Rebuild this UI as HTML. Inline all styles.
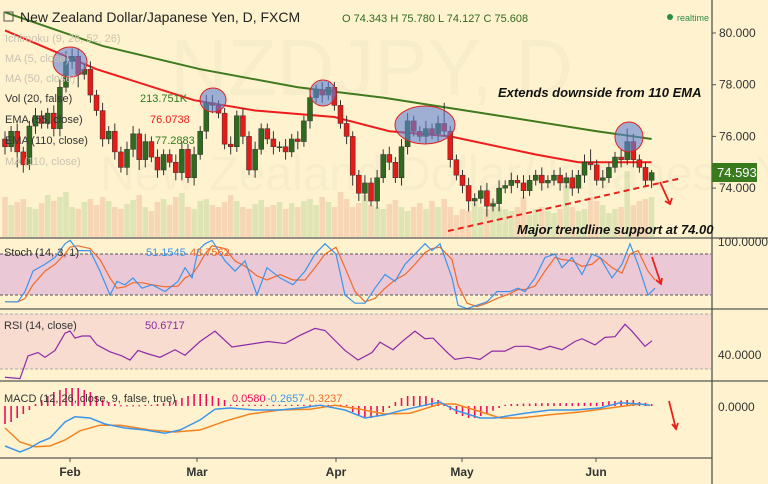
<!DOCTYPE html>
<html><head><meta charset="utf-8"><style>
body{margin:0;width:768px;height:484px;overflow:hidden;background:#fff3cf;font-family:"Liberation Sans",sans-serif}
svg{display:block}
text{font-family:"Liberation Sans",sans-serif}
</style></head><body>
<svg id="c" width="768" height="484">
<rect x="0" y="0" width="768" height="484" fill="#fff3cf"/>
<text x="170" y="95" font-size="80" fill="#f8edcb">NZDJPY, D</text>
<text x="100" y="190" font-size="48" fill="#f8edcb">New Zealand Dollar/Japanese Yen</text>
<g id="price"></g>
<g id="stoch"></g>
<g id="rsi"></g>
<g id="macd"></g>
<g id="ann"></g>
<g id="axes"></g>
</svg>
<script>
const closes=[75.6,76.2,75.4,74.9,76.4,76.8,76.5,76.9,76.3,77.9,78.9,79.1,78.4,78.6,77.6,77.0,75.9,76.2,75.4,74.8,75.5,76.1,75.1,75.8,75.2,74.7,75.3,75.0,74.6,75.5,74.4,75.3,76.2,77.3,77.2,76.9,75.7,75.6,76.8,76.0,74.7,75.5,76.3,75.9,75.6,75.6,75.4,75.9,75.8,76.6,77.5,77.8,77.6,77.9,77.2,76.5,76.0,74.5,73.8,74.2,73.5,74.4,75.3,75.0,74.4,75.6,76.6,76.2,76.0,76.3,76.1,76.5,76.2,75.1,74.5,74.1,73.5,73.6,73.9,73.3,73.4,74.0,74.1,74.3,74.2,73.9,74.3,74.5,74.2,74.3,74.5,74.2,74.4,74.0,74.5,75.0,74.9,74.3,74.4,74.8,75.2,75.1,75.8,75.1,74.8,74.3,74.6];
const firstOpen=75.9;
const upWicks=[0.3,0.2,0.3,0.2,0.2,0.3,0.2,0.2,0.3,0.3,0.4,0.3,0.3,0.2,0.3,0.2,0.3,0.2,0.3,0.2,0.3,0.3,0.2,0.3,0.2,0.3,0.2,0.2,0.3,0.3,0.2,0.3,0.2,0.3,0.3,0.2,0.2,0.3,0.2,0.3,0.2,0.3,0.2,0.2,0.3,0.2,0.3,0.2,0.3,0.2,0.3,0.2,0.3,0.2,0.2,0.2,0.3,0.2,0.2,0.3,0.2,0.3,0.2,0.3,0.2,0.3,0.3,0.2,0.2,0.3,0.2,0.3,0.8,0.2,0.2,0.2,0.3,0.2,0.2,0.3,0.2,0.3,0.2,0.3,0.2,0.3,0.2,0.2,0.3,0.2,0.2,0.3,0.2,0.3,0.2,0.3,0.5,0.2,0.3,0.2,0.2,0.3,0.5,0.3,0.2,0.2,0.1];
const downWicks=[0.3,0.2,0.6,0.3,0.2,0.3,0.2,0.2,0.3,0.3,0.2,0.3,0.5,0.2,0.3,0.2,0.3,0.2,0.3,0.2,0.3,0.3,0.4,0.3,0.2,0.3,0.2,0.2,0.3,0.3,0.2,0.3,0.2,0.3,0.3,0.2,0.2,0.3,0.2,0.3,0.2,0.3,0.2,0.2,0.3,0.2,0.3,0.2,0.3,0.2,0.3,0.2,0.3,0.2,0.2,0.2,0.3,0.4,0.3,0.3,0.2,0.3,0.2,0.3,0.2,0.3,0.3,0.2,0.2,0.3,0.2,0.3,0.2,0.3,0.2,0.3,0.4,0.2,0.2,0.4,0.2,0.3,0.2,0.3,0.2,0.3,0.2,0.2,0.3,0.2,0.2,0.3,0.2,0.3,0.2,0.3,0.2,0.2,0.3,0.2,0.2,0.3,0.2,0.3,0.2,0.2,0.3];
const volumes=[40,32,35,38,30,28,34,42,36,40,45,30,28,35,38,32,40,36,30,28,33,37,42,30,26,35,38,32,40,44,30,28,36,38,32,30,35,42,36,30,28,33,37,30,32,35,28,34,30,36,38,32,40,35,30,45,38,30,34,42,32,30,28,33,37,30,26,30,34,28,36,30,38,30,22,28,26,34,30,28,36,30,28,26,30,40,22,28,30,26,24,28,52,30,26,28,40,36,32,24,28,30,66,32,36,38,40];
const ema55Idx=[0,15,31,41,54,63,73,87,94,106];
const ema55Val=[80.1,78.6,77.4,77.0,76.75,76.2,76.0,75.3,75.0,75.0];
const ema110Idx=[0,16,32,48,62,81,97,106];
const ema110Val=[80.8,79.5,78.6,77.9,77.5,76.8,76.2,75.9];
const stochX=[5,18,25,33,45,55,65,70,78,90,100,110,117,125,133,142,152,165,178,185,192,198,205,212,225,235,245,257,267,280,293,305,315,325,336,345,355,365,375,385,395,405,415,425,432,440,452,458,467,477,487,497,510,518,525,535,545,555,562,572,582,592,600,612,622,630,638,648,655];
const stochK=[10,10,25,55,65,75,95,100,85,85,55,20,40,35,45,30,35,25,40,60,45,85,95,100,70,55,70,20,60,45,35,55,80,95,80,20,8,8,30,50,40,65,80,95,85,95,45,5,0,5,10,25,25,30,25,45,75,80,60,75,50,80,75,45,65,95,65,20,30];
const stochD=[10,10,15,35,55,65,80,90,92,88,72,45,30,32,38,38,35,32,33,45,50,62,80,92,88,70,62,48,42,50,42,42,60,80,90,60,25,10,15,30,42,50,65,82,88,90,72,35,8,3,8,15,22,28,28,33,55,75,72,70,62,65,75,60,52,80,85,55,42];
const rsiX=[5,20,28,38,45,55,65,70,75,82,90,97,110,122,130,138,148,160,175,185,200,215,232,250,268,285,300,315,325,345,358,372,380,393,403,415,425,433,448,455,468,480,492,505,515,528,540,550,562,575,582,595,605,615,625,632,645,652];
const rsiV=[24,23,39.5,42,38.5,43.5,56,57.6,52.5,54,54,47.5,42.5,39.5,36.5,43.5,41,38.5,44,40,50,57.5,46,48,50,48.5,54.5,59.5,58,43.5,36.5,42,49.5,44,50.5,57.5,52,52.5,41.5,37,38.5,37,43,43,46.5,46.5,44,46.5,44,50,52,47.5,53,53.5,62.5,57.5,46.5,50.5];
const macdX=[5,20,30,40,50,65,75,90,105,125,145,165,180,200,215,230,255,280,300,320,345,365,385,400,425,440,455,480,495,525,550,575,600,620,640,650];
const macdLine=[-1.0,-1.15,-1.05,-0.9,-0.8,-0.4,-0.27,-0.3,-0.45,-0.55,-0.6,-0.68,-0.6,-0.35,-0.08,-0.05,-0.1,-0.1,-0.05,0.02,-0.1,-0.3,-0.22,-0.12,0.02,0.1,-0.1,-0.3,-0.3,-0.18,-0.1,-0.1,-0.05,0.08,0.05,0.02];
const signalX=[5,20,35,50,65,80,100,120,150,175,200,225,250,280,310,335,360,385,410,440,455,475,500,520,550,580,610,640,650];
const signalLine=[-0.55,-0.9,-1.02,-1.0,-0.85,-0.62,-0.48,-0.48,-0.6,-0.65,-0.6,-0.38,-0.2,-0.1,-0.08,0.02,-0.08,-0.2,-0.18,0.05,0.05,-0.1,-0.3,-0.3,-0.22,-0.15,-0.05,0.05,0.02];
const histVals=[-0.45,-0.4,-0.3,-0.2,-0.1,0.05,0.15,0.25,0.35,0.4,0.45,0.45,0.45,0.4,0.35,0.25,0.15,0.1,0.05,0.02,0.02,0.02,0.02,0.03,0.03,0.05,0.08,0.1,0.15,0.2,0.25,0.3,0.3,0.3,0.25,0.2,0.15,0.03,0.03,0.03,0.03,0.03,0.03,0.03,0.03,0.03,0.03,0.03,0.03,0.03,0.03,0.03,0.03,0.03,0.03,0.03,0.03,-0.15,-0.25,-0.3,-0.3,-0.25,-0.15,-0.05,0.1,0.2,0.25,0.25,0.25,0.25,0.2,0.15,0.05,-0.1,-0.2,-0.25,-0.3,-0.3,-0.25,-0.2,-0.12,-0.05,0.03,0.05,0.05,0.06,0.06,0.07,0.07,0.07,0.07,0.07,0.07,0.07,0.08,0.08,0.08,0.08,0.1,0.12,0.12,0.14,0.15,0.15,0.1,0.08,0.05];
const priceTicks=[80,78,76,74];
const monthLabels=["Feb","Mar","Apr","May","Jun"];
const monthX=[70,197,336,462,596];

const NS="http://www.w3.org/2000/svg";
function el(p,t,a){const e=document.createElementNS(NS,t);for(const k in a)e.setAttribute(k,a[k]);p.appendChild(e);return e;}
const bx=i=>5+i*6.1;
const py=p=>33+(80-p)*25.85;
const sy=v=>295-(v-20)*0.683;
const ry=v=>369-(v-30)*1.375;
const my=v=>406-v*40;
const G=id=>document.getElementById(id);
const price=G('price'),stoch=G('stoch'),rsi=G('rsi'),macd=G('macd'),ann=G('ann'),axes=G('axes');

volumes.forEach((v,i)=>{const o=i?closes[i-1]:firstOpen;const up=closes[i]>=o;
const r=el(price,'rect',{x:bx(i)-2.8,y:237-v,width:5.6,height:v,fill:up?'rgba(150,195,120,0.3)':'rgba(225,150,120,0.3)'});

});
function poly(g,xs,ys,col,w,name){const l=el(g,'polyline',{points:xs.map((x,k)=>x+','+ys[k]).join(' '),fill:'none',stroke:col,'stroke-width':w});

return l;}
poly(price,ema110Idx.map(bx),ema110Val.map(py),'#3f7a1e',2,'ema-110-line');
poly(price,ema55Idx.map(bx),ema55Val.map(py),'#ee1c1c',2,'ema-55-line');
closes.forEach((c,i)=>{const o=i?closes[i-1]:firstOpen;const up=c>=o;const col=up?'#2f6a1f':'#e41b17';
const hi=Math.max(o,c)+upWicks[i],lo=Math.min(o,c)-downWicks[i];
const w=el(price,'line',{x1:bx(i),x2:bx(i),y1:py(hi),y2:py(lo),stroke:'#333','stroke-width':1});


const b=el(price,'rect',{x:bx(i)-2.5,y:py(Math.max(o,c)),width:5,height:Math.max(1,Math.abs(py(o)-py(c))),fill:col,stroke:'#333','stroke-width':0.5});

});
[[70,62,17,15],[213,100,13,12],[323,93,13,13],[425,125,30,19],[629,137,14,15]].forEach(e=>{
const c=el(ann,'ellipse',{cx:e[0],cy:e[1],rx:e[2],ry:e[3],fill:'rgba(95,130,215,0.6)',stroke:'#e02020','stroke-width':1});

});

el(stoch,'rect',{x:0,y:sy(80),width:711,height:sy(20)-sy(80),fill:'#ebc8d6'});
[80,20].forEach(v=>el(stoch,'line',{x1:0,x2:711,y1:sy(v),y2:sy(v),stroke:'#555','stroke-dasharray':'3,2'}));
poly(stoch,stochX,stochD.map(sy),'#f26a2a',1.2,'stoch-d-line');
poly(stoch,stochX,stochK.map(sy),'#3d95ea',1.2,'stoch-k-line');
el(rsi,'rect',{x:0,y:ry(70),width:711,height:ry(30)-ry(70),fill:'#f7dccf'});
[70,30].forEach(v=>el(rsi,'line',{x1:0,x2:711,y1:ry(v),y2:ry(v),stroke:'#aaa','stroke-dasharray':'3,2'}));
poly(rsi,rsiX,rsiV.map(ry),'#8e2aa8',1.2,'rsi-line');
histVals.forEach((v,i)=>{const r=el(macd,'rect',{x:bx(i)-0.8,y:Math.min(my(v),406),width:1.6,height:Math.max(1.2,Math.abs(my(v)-406)),fill:'#ee1060'});

});
poly(macd,signalX,signalLine.map(my),'#f5821f',1.5,'macd-signal-line');
poly(macd,macdX,macdLine.map(my),'#3d95ea',1.5,'macd-line');

[[0,238,768,238],[0,309,768,309],[0,381,768,381],[0,458,712,458],[712,0,712,484]].forEach(s=>el(axes,'line',{x1:s[0],y1:s[1],x2:s[2],y2:s[3],stroke:'#555','stroke-width':1.3}));
priceTicks.forEach(p=>{el(axes,'line',{x1:712,x2:716,y1:py(p),y2:py(p),stroke:'#555'});
const t=el(axes,'text',{x:719,y:py(p)+4,'font-size':12,fill:'#333'});t.textContent=p.toFixed(3);

});
monthLabels.forEach((m,k)=>{el(axes,'line',{x1:monthX[k],x2:monthX[k],y1:458,y2:462,stroke:'#555'});
const t=el(axes,'text',{x:monthX[k],y:476,'font-size':12,'font-weight':'bold',fill:'#333','text-anchor':'middle'});t.textContent=m;

});
</script>
<svg style="position:absolute;left:0;top:0" width="768" height="484">
<rect x="712" y="163" width="45" height="19" fill="#3a7a1e"/>
<text x="717" y="177" font-size="13" fill="#fff">74.593</text>
<text x="718" y="246" font-size="12" fill="#333">100.0000</text>
<text x="718" y="359" font-size="12" fill="#333">40.0000</text>
<text x="718" y="411" font-size="12" fill="#333">0.0000</text>
<line x1="448" y1="231" x2="682" y2="178" stroke="#e8221b" stroke-width="2" stroke-dasharray="6,4"/>
<path d="M660 182 L670 204 M665 201 L670 204 L672 198" stroke="#e8221b" stroke-width="1.8" fill="none"/>
<path d="M652 257 L661 284 M656 280 L661 284 L662 278" stroke="#e8221b" stroke-width="1.8" fill="none"/>
<path d="M669 401 L676 429 M672 424 L676 429 L678 423" stroke="#e8221b" stroke-width="1.8" fill="none"/>
<text x="498" y="97" font-size="13" font-weight="bold" font-style="italic" fill="#111">Extends downside from 110 EMA</text>
<text x="517" y="234" font-size="13" font-weight="bold" font-style="italic" fill="#111">Major trendline support at 74.00</text>
<rect x="4" y="12" width="9" height="9" fill="none" stroke="#555"/>
<text x="20" y="22" font-size="14" fill="#222">New Zealand Dollar/Japanese Yen, D, FXCM</text>
<text x="342" y="22" font-size="11" fill="#2f6a1f">O 74.343  H 75.780  L 74.127  C 75.608</text>
<circle cx="670" cy="17" r="3" fill="#2f8a4a"/>
<text x="677" y="21" font-size="9" fill="#2f8a4a">realtime</text>
<g font-size="11" fill="#c8c2b0">
<text x="5" y="42">Ichimoku (9, 26, 52, 26)</text>
<text x="5" y="62">MA (5, close)</text>
<text x="5" y="82">MA (50, close)</text>
<text x="5" y="102" fill="#333">Vol (20, false)</text>
<text x="140" y="102" fill="#2f7a1e">213.751K</text>
<text x="5" y="123" fill="#333">EMA (55, close)</text>
<text x="150" y="123" fill="#ee1c1c">76.0738</text>
<text x="5" y="144" fill="#333">EMA (110, close)</text>
<text x="155" y="144" fill="#2f7a1e">77.2883</text>
<text x="5" y="165">MA (110, close)</text>
</g>
<text x="4" y="256" font-size="11" fill="#333">Stoch (14, 3, 1)</text>
<text x="146" y="256" font-size="11" fill="#3d95ea">51.1545</text>
<text x="190" y="256" font-size="11" fill="#f26a2a">43.7562</text>
<text x="4" y="329" font-size="11" fill="#333">RSI (14, close)</text>
<text x="145" y="329" font-size="11" fill="#8e2aa8">50.6717</text>
<text x="4" y="402" font-size="11" fill="#333">MACD (12, 26, close, 9, false, true)</text>
<text x="232" y="402" font-size="11" fill="#ee1060">0.0580</text>
<text x="267" y="402" font-size="11" fill="#3d95ea">-0.2657</text>
<text x="305" y="402" font-size="11" fill="#f26a2a">-0.3237</text>
</svg>
</body></html>
